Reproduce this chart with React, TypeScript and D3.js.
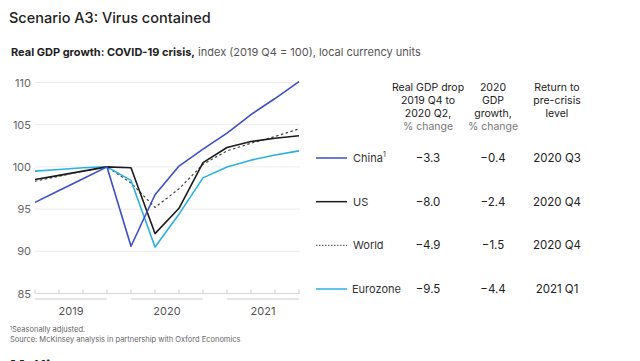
import React from "react";
import * as d3 from "d3";

const quarters = [
  "2019 Q1", "2019 Q2", "2019 Q3", "2019 Q4",
  "2020 Q1", "2020 Q2", "2020 Q3", "2020 Q4",
  "2021 Q1", "2021 Q2", "2021 Q3", "2021 Q4",
];
const years = ["2019", "2020", "2021"];
const yTicks = [85, 90, 95, 100, 105, 110];

const chinaValues = [95.8, 97.2, 98.6, 100, 90.6, 96.7, 100.1, 102.1, 104.0, 106.2, 108.1, 110.1];
const usValues = [98.5, 99.0, 99.5, 100, 99.9, 92.1, 95.1, 100.5, 102.3, 103.0, 103.4, 103.7];
const worldValues = [98.3, 98.9, 99.5, 100, 98.1, 95.2, 97.4, 100.3, 101.9, 102.8, 103.6, 104.5];
const euroValues = [99.5, 99.7, 99.9, 100, 98.4, 90.5, 94.4, 98.7, 100.0, 100.8, 101.4, 101.9];

const seriesNames = ["China", "US", "World", "Eurozone"];
const gdpDrop = ["\u22123.3", "\u22128.0", "\u22124.9", "\u22129.5"];
const growth2020 = ["\u22120.4", "\u22122.4", "\u22121.5", "\u22124.4"];
const returnLevel = ["2020 Q3", "2020 Q4", "2020 Q4", "2021 Q1"];

const FONT = "Inter, 'Noto Sans', sans-serif";

const series = [
  { name: "China", values: chinaValues, color: "#3d4fc4", dash: null, width: 1.6 },
  { name: "US", values: usValues, color: "#1b1b1b", dash: null, width: 1.6 },
  { name: "World", values: worldValues, color: "#444", dash: "2.5,2.5", width: 1.2 },
  { name: "Eurozone", values: euroValues, color: "#2cb0e2", dash: null, width: 1.6 },
];
// dotted world line goes behind the others
const drawOrder = ["World", "Eurozone", "US", "China"];

export default function App() {
  const x = d3.scalePoint().domain(quarters).range([35, 299]);
  const y = d3.scaleLinear().domain([85, 110]).range([293.5, 82.5]);
  const line = d3
    .line<number>()
    .x((_, i) => x(quarters[i]) as number)
    .y((d) => y(d));

  const rowY = d3.scalePoint().domain(seriesNames).range([158, 289]);
  const colX = [428, 493, 557];

  return (
    <svg width={640} height={361} style={{ position: "absolute", left: 0, top: 0 }} fontFamily={FONT}>
      <rect width={640} height={361} fill="#fff" />
      <text x={9} y={23} fontSize={14.5} fill="#222" fontWeight={500}>
        Scenario A3: Virus contained
      </text>
      <text x={11} y={56} fontSize={11} fill="#222">
        <tspan fontWeight={700}>Real GDP growth: COVID-19 crisis,</tspan>
        <tspan fill="#555"> index (2019 Q4 = 100), local currency units</tspan>
      </text>

      {/* gridlines */}
      {yTicks.slice(1).map((t) => (
        <line key={t} x1={35} x2={300} y1={y(t)} y2={y(t)} stroke="#ececec" strokeWidth={1} />
      ))}
      {yTicks.map((t) => (
        <text key={t} x={31} y={y(t) + 4} fontSize={11} fill="#666" textAnchor="end">
          {t}
        </text>
      ))}

      {/* x axis */}
      <line x1={35} x2={300} y1={y(85)} y2={y(85)} stroke="#ddd" />
      {quarters.map((q) => (
        <line key={q} x1={x(q)} x2={x(q)} y1={y(85)} y2={y(85) - 4} stroke="#ccc" />
      ))}
      {years.map((yr) => {
        const qs = quarters.filter((q) => q.startsWith(yr));
        const x0 = x(qs[0]) as number;
        const x1 = x(qs[qs.length - 1]) as number;
        return (
          <g key={yr}>
            <line x1={x0} x2={x1} y1={299} y2={299} stroke="#ccc" />
            <text x={(x0 + x1) / 2} y={315} fontSize={11} fill="#555" textAnchor="middle">
              {yr}
            </text>
          </g>
        );
      })}

      {/* lines */}
      {drawOrder.map((n) => {
        const s = series.find((d) => d.name === n)!;
        return (
          <path
            key={n}
            d={line(s.values) || ""}
            fill="none"
            stroke={s.color}
            strokeWidth={s.width}
            strokeDasharray={s.dash || undefined}
            strokeLinejoin="round"
          />
        );
      })}

      {/* table headers */}
      {[
        ["Real GDP drop", "2019 Q4 to", "2020 Q2,", "% change"],
        ["2020", "GDP", "growth,", "% change"],
        ["Return to", "pre-crisis", "level"],
      ].map((lines, ci) => (
        <text key={ci} x={colX[ci]} fontSize={10.5} textAnchor="middle" fill="#222">
          {lines.map((l, li) => (
            <tspan key={li} x={colX[ci]} y={91 + li * 13} fill={l === "% change" ? "#777" : "#222"}>
              {l}
            </tspan>
          ))}
        </text>
      ))}

      {/* table rows */}
      {series.map((s, i) => {
        const ry = rowY(s.name) as number;
        return (
          <g key={s.name}>
            <line
              x1={316}
              x2={347}
              y1={ry}
              y2={ry}
              stroke={s.color}
              strokeWidth={s.name === "World" ? 1 : 1.5}
              strokeDasharray={s.name === "World" ? "1.5,1.5" : undefined}
            />
            <text x={s.name === "Eurozone" ? 352 : 353} y={ry + 4} fontSize={11} fill="#333">
              {s.name}
              {s.name === "China" && (
                <tspan fontSize={7} dy={-5}>
                  1
                </tspan>
              )}
            </text>
            <text x={colX[0]} y={ry + 4} fontSize={11.5} textAnchor="middle" fill="#222">
              {gdpDrop[i]}
            </text>
            <text x={colX[1]} y={ry + 4} fontSize={11.5} textAnchor="middle" fill="#222">
              {growth2020[i]}
            </text>
            <text x={colX[2]} y={ry + 4} fontSize={11.5} textAnchor="middle" fill="#222">
              {returnLevel[i]}
            </text>
          </g>
        );
      })}

      {/* footnotes */}
      <text x={10} y={332} fontSize={7.5} fill="#666">
        <tspan fontSize={5} dy={-2}>1</tspan>
        <tspan dy={2}>Seasonally adjusted.</tspan>
      </text>
      <text x={10} y={342} fontSize={7.5} fill="#666">
        Source: McKinsey analysis in partnership with Oxford Economics
      </text>
      <text x={10} y={372} fontSize={16} fontWeight={700} fill="#222">
        McKinsey
      </text>
    </svg>
  );
}
